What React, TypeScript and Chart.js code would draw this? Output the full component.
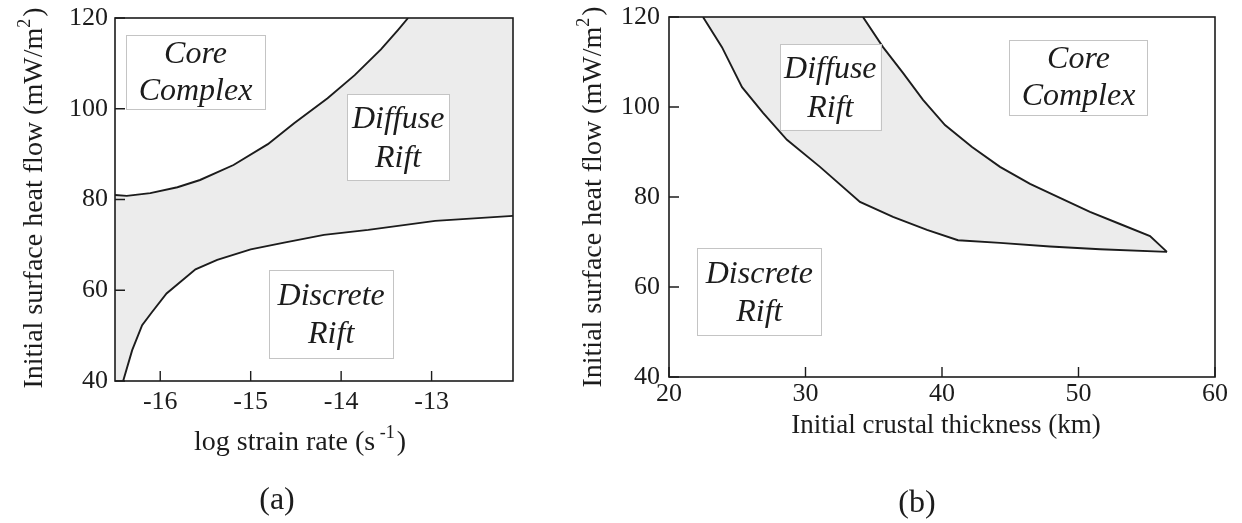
import React, { useEffect, useRef } from "react";
import { Chart, registerables } from "chart.js";

Chart.register(...registerables);

// ---------- Panel (a): heat flow vs log strain rate ----------
const strainTicks = [-16, -15, -14, -13];
const heatTicks = [40, 60, 80, 100, 120];
const strainRange = [-16.5, -12.1];
const heatRange = [40, 120];

// Core Complex / Diffuse Rift boundary
const coreDiffuseStrain = [-16.5, -16.37, -16.11, -15.81, -15.56, -15.19, -14.81, -14.52, -14.15, -13.85, -13.56, -13.37, -13.26];
const coreDiffuseHeat = [81.0, 80.8, 81.4, 82.7, 84.3, 87.6, 92.2, 96.8, 102.3, 107.4, 113.1, 117.4, 120];
// Diffuse Rift / Discrete Rift boundary
const diffuseDiscreteStrain = [-16.41, -16.31, -16.2, -16.09, -15.93, -15.61, -15.37, -15.0, -14.63, -14.19, -13.7, -12.96, -12.1];
const diffuseDiscreteHeat = [40, 46.8, 52.3, 55.2, 59.3, 64.6, 66.7, 69.0, 70.5, 72.2, 73.3, 75.3, 76.4];

// ---------- Panel (b): heat flow vs crustal thickness ----------
const thicknessTicks = [20, 30, 40, 50, 60];
const thicknessRange = [20, 60];
// Discrete Rift / Diffuse Rift boundary
const discreteDiffuseThick = [22.49, 23.88, 25.35, 26.89, 28.64, 31.06, 33.99, 36.41, 38.9, 41.17, 44.25, 47.91, 51.58, 56.48];
const discreteDiffuseHeat = [120, 113.3, 104.4, 98.7, 92.7, 86.7, 78.9, 75.6, 72.7, 70.4, 69.8, 69.0, 68.4, 67.8];
// Diffuse Rift / Core Complex boundary
const diffuseCoreThick = [34.21, 35.68, 37.14, 38.61, 40.22, 42.2, 44.25, 46.45, 48.64, 50.84, 53.04, 55.24, 56.48];
const diffuseCoreHeat = [120, 113.3, 107.6, 101.6, 96.0, 91.1, 86.7, 82.9, 79.8, 76.7, 74.0, 71.3, 67.8];

// ---------- Text ----------
const yTitleParts = [
  { t: "Initial surface heat flow (mW/m" },
  { t: "2", sup: true },
  { t: ")" },
];
const xTitleA = [{ t: "log strain rate (s" }, { t: " -1", sup: true }, { t: ")" }];
const xTitleB = [{ t: "Initial crustal thickness (km)" }];
const regionCore = ["Core", "Complex"];
const regionDiffuse = ["Diffuse", "Rift"];
const regionDiscrete = ["Discrete", "Rift"];

// Label box placement (data coordinates) — layout, not data
const regionsA = [
  { lines: regionCore, box: [-16.38, -14.84, 116.3, 99.9], cx: -15.61, base: [110.1, 101.9] },
  { lines: regionDiffuse, box: [-13.93, -12.8, 103.2, 84.3], cx: -13.37, base: [95.8, 87.2] },
  { lines: regionDiscrete, box: [-14.8, -13.43, 64.5, 45.0], cx: -14.11, base: [56.7, 48.4] },
];
const regionsB = [
  { lines: regionDiffuse, box: [28.13, 35.51, 114.0, 94.9], cx: 31.82, base: [106.4, 97.8] },
  { lines: regionDiscrete, box: [22.07, 31.16, 68.7, 49.3], cx: 26.62, base: [60.9, 52.4] },
  { lines: regionCore, box: [44.93, 55.07, 115.0, 98.4], cx: 50.0, base: [108.7, 100.4] },
];

const SERIF = "'Liberation Serif', 'Times New Roman', serif";
const INK = "#1c1c1c";
const SHADE = "#ececec";

const zip = (xs: number[], ys: number[]) => xs.map((x, i) => ({ x, y: ys[i] }));

function drawParts(ctx: CanvasRenderingContext2D, parts: any[], cx: number, by: number, size: number) {
  const supSize = Math.round(size * 0.64);
  let total = 0;
  const widths = parts.map((p) => {
    ctx.font = `${p.sup ? supSize : size}px ${SERIF}`;
    const w = ctx.measureText(p.t).width + (p.sup ? 2 : 0);
    total += w;
    return w;
  });
  let x = cx - total / 2;
  parts.forEach((p, i) => {
    ctx.font = `${p.sup ? supSize : size}px ${SERIF}`;
    ctx.fillText(p.t, x, p.sup ? by - size * 0.42 : by);
    x += widths[i];
  });
}

const panelDecor = {
  id: "panelDecor",
  afterDatasetsDraw(chart: any, _args: any, opts: any) {
    const { ctx } = chart;
    const xs = chart.scales.x;
    const ys = chart.scales.y;
    ctx.save();
    (opts.regions || []).forEach((r: any) => {
      const x1 = xs.getPixelForValue(r.box[0]);
      const x2 = xs.getPixelForValue(r.box[1]);
      const y1 = ys.getPixelForValue(r.box[2]);
      const y2 = ys.getPixelForValue(r.box[3]);
      ctx.fillStyle = "#ffffff";
      ctx.fillRect(x1, y1, x2 - x1, y2 - y1);
      ctx.strokeStyle = "#c4c4c4";
      ctx.lineWidth = 1;
      ctx.strokeRect(Math.round(x1) + 0.5, Math.round(y1) + 0.5, Math.round(x2 - x1), Math.round(y2 - y1));
      ctx.fillStyle = INK;
      ctx.font = `italic 32px ${SERIF}`;
      ctx.textAlign = "center";
      ctx.textBaseline = "alphabetic";
      r.lines.forEach((ln: string, i: number) => {
        ctx.fillText(ln, xs.getPixelForValue(r.cx), ys.getPixelForValue(r.base[i]));
      });
    });
    ctx.restore();
  },
  afterDraw(chart: any, _args: any, opts: any) {
    const { ctx, chartArea: a } = chart;
    const xs = chart.scales.x;
    const ys = chart.scales.y;
    ctx.save();
    ctx.strokeStyle = INK;
    ctx.lineWidth = 1.6;
    ctx.strokeRect(a.left, a.top, a.right - a.left, a.bottom - a.top);
    ctx.lineWidth = 1.4;
    ctx.beginPath();
    xs.ticks.forEach((t: any) => {
      const px = xs.getPixelForValue(t.value);
      ctx.moveTo(px, a.bottom);
      ctx.lineTo(px, a.bottom - 10);
    });
    ys.ticks.forEach((t: any) => {
      const py = ys.getPixelForValue(t.value);
      ctx.moveTo(a.left, py);
      ctx.lineTo(a.left + 10, py);
    });
    ctx.stroke();

    ctx.fillStyle = INK;
    ctx.textAlign = "left";
    ctx.textBaseline = "alphabetic";
    // x title
    drawParts(ctx, opts.xTitle, opts.xTitlePos[0], opts.xTitlePos[1], opts.xTitleSize);
    // y title (rotated)
    ctx.save();
    ctx.translate(opts.yTitlePos[0], opts.yTitlePos[1]);
    ctx.rotate(-Math.PI / 2);
    drawParts(ctx, opts.yTitle, 0, 0, 28);
    ctx.restore();
    // panel tag
    ctx.font = `32px ${SERIF}`;
    ctx.textAlign = "center";
    ctx.textBaseline = "middle";
    ctx.fillText(opts.tag, opts.tagPos[0], opts.tagPos[1]);
    ctx.restore();
  },
};

function makeConfig(p: any) {
  return {
    type: "scatter",
    data: {
      datasets: [
        {
          data: p.polygon,
          showLine: true,
          fill: "shape",
          backgroundColor: SHADE,
          borderWidth: 0,
          borderColor: "rgba(0,0,0,0)",
          pointRadius: 0,
          order: 2,
        },
        ...p.curves.map((c: any) => ({
          data: c,
          showLine: true,
          fill: false,
          borderColor: INK,
          borderWidth: 1.9,
          pointRadius: 0,
          order: 1,
        })),
      ],
    },
    options: {
      animation: false,
      responsive: false,
      devicePixelRatio: 1,
      events: [],
      layout: { padding: { top: p.padTop, right: p.padRight, left: 0, bottom: 0 } },
      plugins: {
        legend: { display: false },
        tooltip: { enabled: false },
        panelDecor: {
          regions: p.regions,
          xTitle: p.xTitle,
          xTitlePos: p.xTitlePos,
          xTitleSize: p.xTitleSize,
          yTitle: yTitleParts,
          yTitlePos: p.yTitlePos,
          tag: p.tag,
          tagPos: p.tagPos,
        },
      },
      scales: {
        x: {
          type: "linear",
          min: p.xRange[0],
          max: p.xRange[1],
          afterFit: (s: any) => {
            s.height = p.xAxisHeight;
          },
          afterBuildTicks: (s: any) => {
            s.ticks = p.xTicks.map((v: number) => ({ value: v }));
          },
          grid: { display: false, drawTicks: false },
          border: { display: false },
          ticks: {
            font: { family: SERIF, size: 26, lineHeight: 1.2 },
            color: INK,
            padding: p.xLabelPad,
            maxRotation: 0,
            autoSkip: false,
            callback: (v: any) => String(v),
          },
        },
        y: {
          type: "linear",
          min: heatRange[0],
          max: heatRange[1],
          afterFit: (s: any) => {
            s.width = p.yAxisWidth;
          },
          afterBuildTicks: (s: any) => {
            s.ticks = heatTicks.map((v: number) => ({ value: v }));
          },
          grid: { display: false, drawTicks: false },
          border: { display: false },
          ticks: {
            font: { family: SERIF, size: 26, lineHeight: 0.6 },
            color: INK,
            padding: p.yLabelPad,
            autoSkip: false,
            callback: (v: any) => String(v),
          },
        },
      },
    },
    plugins: [panelDecor],
  };
}

function Panel(props: { left: number; width: number; cfg: any }) {
  const ref = useRef<HTMLCanvasElement | null>(null);
  useEffect(() => {
    if (!ref.current) return;
    const chart = new Chart(ref.current, makeConfig(props.cfg) as any);
    return () => chart.destroy();
  }, []);
  return (
    <canvas
      ref={ref}
      width={props.width}
      height={523}
      style={{ position: "absolute", left: props.left, top: 0, width: props.width, height: 523 }}
    />
  );
}

export default function App() {
  const upperA = zip(coreDiffuseStrain, coreDiffuseHeat);
  const lowerA = zip(diffuseDiscreteStrain, diffuseDiscreteHeat);
  const polygonA = [
    { x: strainRange[0], y: heatRange[0] },
    ...upperA,
    { x: strainRange[1], y: heatRange[1] },
    ...lowerA.slice().reverse(),
  ];
  const lowerB = zip(discreteDiffuseThick, discreteDiffuseHeat);
  const upperB = zip(diffuseCoreThick, diffuseCoreHeat);
  const polygonB = [...lowerB, ...upperB.slice().reverse()];

  const cfgA = {
    polygon: polygonA,
    curves: [upperA, lowerA],
    xRange: strainRange,
    xTicks: strainTicks,
    padTop: 18,
    padRight: 47,
    xAxisHeight: 142,
    yAxisWidth: 115,
    xLabelPad: 6,
    yLabelPad: 7,
    regions: regionsA,
    xTitle: xTitleA,
    xTitlePos: [300, 450],
    xTitleSize: 28,
    yTitlePos: [42, 198],
    tag: "(a)",
    tagPos: [277, 501],
  };
  const cfgB = {
    polygon: polygonB,
    curves: [lowerB, upperB],
    xRange: thicknessRange,
    xTicks: thicknessTicks,
    padTop: 17,
    padRight: 27,
    xAxisHeight: 146,
    yAxisWidth: 109,
    xLabelPad: 2,
    yLabelPad: 9,
    regions: regionsB,
    xTitle: xTitleB,
    xTitlePos: [386, 433],
    xTitleSize: 27,
    yTitlePos: [41, 197],
    tag: "(b)",
    tagPos: [357, 504],
  };

  return (
    <div style={{ position: "absolute", left: 0, top: 0, width: 1242, height: 523, background: "#ffffff", overflow: "hidden" }}>
      <Panel left={0} width={560} cfg={cfgA} />
      <Panel left={560} width={682} cfg={cfgB} />
    </div>
  );
}
